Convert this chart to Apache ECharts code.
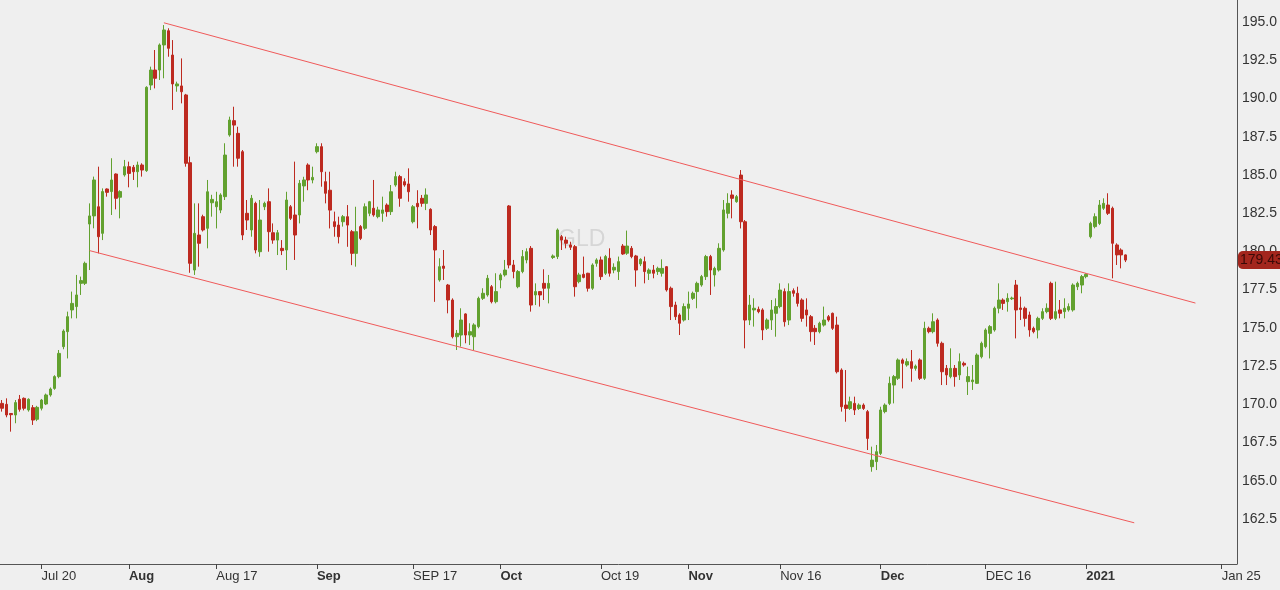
<!DOCTYPE html>
<html>
<head>
<meta charset="utf-8">
<title>GLD</title>
<script src="https://cdn.jsdelivr.net/npm/echarts@6/dist/echarts.min.js"></script>
<style>
  html, body { margin: 0; padding: 0; background: #efefef; }
  #chart { width: 1280px; height: 590px; }
</style>
</head>
<body>
<div id="chart"></div>
<script>
// half-day bars, oldest first
const opens = [
  170.06,170.00,169.40,169.30,170.33,170.39,169.63,169.78,169.02,169.74,
  170.02,170.61,171.04,171.81,173.77,174.75,176.17,176.39,177.91,177.91,
  181.79,182.32,182.92,181.18,184.08,183.91,185.06,183.54,185.00,185.54,
  185.50,185.21,185.65,185.28,190.88,191.86,191.86,193.50,194.43,192.84,
  190.82,190.82,190.23,185.80,178.78,181.07,182.27,181.51,183.18,182.92,
  182.70,183.58,187.61,188.55,187.72,186.52,182.49,181.40,183.14,179.98,
  182.92,183.25,181.22,180.74,180.20,180.09,182.92,182.38,182.38,184.28,
  185.65,184.67,186.52,186.85,184.56,184.00,181.94,181.72,181.94,182.27,
  181.29,179.87,181.62,181.51,182.49,182.82,182.27,182.49,183.03,182.60,
  184.34,184.89,184.56,184.41,181.94,183.14,183.47,183.14,182.75,181.62,
  178.13,179.04,177.80,176.82,174.42,174.53,175.91,174.53,174.42,175.08,
  176.93,177.15,177.69,176.71,178.13,178.46,182.97,179.11,177.69,178.68,
  179.44,180.20,177.15,177.37,177.91,177.59,179.60,179.66,180.96,180.74,
  180.42,180.31,178.02,178.50,178.57,177.59,179.22,179.44,178.57,179.55,
  178.78,178.68,180.35,179.88,180.20,179.70,179.18,179.33,178.57,178.78,
  178.68,178.57,179.00,177.59,176.49,175.84,175.51,176.28,176.93,177.37,
  177.80,178.35,179.66,178.46,178.78,180.09,182.49,183.69,183.25,184.99,
  181.94,175.51,176.17,176.21,176.17,174.97,175.51,175.95,176.39,177.37,
  175.51,177.43,177.26,176.82,176.17,175.73,174.97,174.75,175.18,175.73,
  175.95,175.18,172.24,169.95,169.73,170.06,169.73,169.95,169.52,165.92,
  166.25,166.79,169.52,170.06,171.26,171.70,172.90,172.57,172.79,172.35,
  172.90,171.70,174.97,174.75,175.51,173.99,172.35,171.81,172.35,171.92,
  172.68,171.48,171.48,171.37,173.11,173.77,174.64,174.86,176.28,176.82,
  176.71,176.90,177.80,176.30,176.28,175.84,174.97,174.86,175.62,176.06,
  177.91,175.62,176.17,176.06,176.17,176.17,177.69,177.80,178.35,180.96,
  181.62,181.83,182.82,183.03,182.82,180.42,180.09,179.77
];
const highs = [
  170.28,170.39,169.42,170.28,170.61,170.45,170.39,169.95,169.90,170.35,
  170.70,171.10,171.90,173.55,174.90,176.06,177.37,178.46,178.35,179.33,
  183.14,184.89,185.54,184.12,184.12,186.09,185.10,184.00,185.98,185.87,
  185.65,185.87,185.76,190.80,192.08,193.17,193.60,194.80,194.59,193.82,
  191.10,192.62,190.30,186.20,183.14,183.14,182.40,184.67,183.70,183.90,
  183.80,187.07,188.81,189.46,188.15,186.63,183.36,183.69,183.25,183.36,
  183.25,184.12,181.83,181.40,180.74,183.90,183.03,185.87,184.67,184.88,
  185.76,185.54,187.07,187.07,185.21,185.21,182.60,182.27,182.38,183.03,
  181.40,182.92,181.72,183.14,183.30,184.67,182.92,183.58,183.14,184.34,
  185.21,185.00,184.78,185.43,183.03,184.00,183.69,184.12,182.82,181.72,
  179.55,180.09,177.87,176.93,174.86,176.28,175.95,175.30,175.30,177.04,
  177.59,178.46,177.80,178.57,178.57,179.44,183.03,179.44,178.78,180.09,
  180.20,180.35,177.91,177.37,178.83,178.46,179.80,181.50,181.07,180.96,
  180.63,180.42,178.60,179.66,178.60,179.22,179.55,179.66,179.77,180.20,
  179.22,179.66,180.48,181.36,180.35,179.77,179.55,179.66,178.89,179.11,
  179.00,179.48,179.04,177.70,176.71,175.95,176.60,177.37,177.37,178.02,
  178.46,179.77,179.77,179.00,180.53,183.36,183.80,184.00,183.69,185.32,
  182.05,177.15,176.93,176.39,176.28,175.62,176.82,176.93,177.91,177.58,
  177.91,177.58,177.69,176.93,176.93,175.84,175.18,175.40,176.39,175.84,
  176.00,175.73,172.35,172.24,170.50,170.50,170.06,170.06,169.63,167.23,
  167.34,169.84,170.06,171.81,171.92,173.00,173.00,173.00,173.55,172.60,
  173.00,175.40,175.08,175.95,175.62,174.10,172.57,173.66,172.57,173.33,
  172.79,172.46,172.57,173.33,174.10,174.97,175.18,176.39,177.91,176.93,
  177.26,177.04,178.13,177.04,176.39,176.06,175.08,175.73,176.28,176.60,
  178.02,178.02,176.82,176.93,176.60,177.91,178.02,178.46,178.57,181.94,
  182.49,183.36,183.47,183.80,182.93,180.53,180.20,179.80
];
const lows = [
  169.52,169.15,168.21,168.76,169.52,169.60,169.52,168.65,168.90,169.60,
  169.95,170.50,170.95,171.70,173.60,173.00,175.62,175.62,177.15,177.80,
  178.78,181.51,179.87,180.74,183.58,182.38,182.75,182.16,184.89,184.19,
  184.67,184.19,184.89,185.20,190.55,190.66,191.21,191.32,192.73,189.25,
  190.44,189.68,185.54,178.60,178.46,179.00,181.30,180.20,182.27,181.50,
  182.50,183.36,187.50,185.54,185.54,180.74,181.40,180.96,179.87,179.65,
  182.70,179.98,180.50,179.76,179.76,178.78,182.05,179.44,181.83,183.25,
  184.00,184.45,186.41,184.23,183.14,181.50,180.96,180.52,181.62,180.30,
  179.10,179.00,180.74,181.40,182.30,182.27,182.16,181.94,182.27,182.38,
  184.23,182.92,184.23,183.25,181.83,181.51,182.92,182.70,181.07,176.70,
  178.02,178.13,175.95,174.31,173.55,173.77,173.99,173.88,173.55,174.97,
  176.82,177.04,176.60,176.60,177.59,178.35,178.89,178.24,177.59,178.57,
  179.22,176.06,176.49,176.39,176.82,176.60,179.50,179.50,180.09,180.20,
  180.09,177.04,177.91,178.24,177.37,177.48,179.00,178.13,178.46,178.35,
  178.57,178.13,179.77,179.77,179.55,177.69,179.04,177.91,178.13,178.24,
  178.46,178.35,177.37,175.51,175.51,174.53,175.41,175.51,176.82,176.28,
  177.69,178.13,177.15,177.70,178.68,179.98,182.16,182.16,183.18,181.50,
  173.66,175.18,175.08,175.95,174.20,174.86,174.86,174.42,176.28,175.08,
  175.18,177.04,176.39,175.40,175.08,174.10,173.88,174.64,175.08,175.40,
  174.86,172.02,169.52,168.86,169.63,169.30,169.63,169.63,167.01,165.59,
  165.70,166.68,169.41,169.95,170.06,171.59,171.04,172.46,171.48,172.20,
  171.59,171.59,174.64,174.64,173.77,171.26,171.26,171.70,171.15,171.59,
  172.46,170.61,170.94,171.33,173.00,173.66,173.00,174.75,175.95,176.17,
  176.06,176.82,174.31,175.51,175.08,174.42,174.64,174.31,175.51,175.95,
  175.51,175.51,175.62,175.62,176.06,176.06,177.47,177.26,178.24,180.85,
  181.51,181.72,182.71,182.38,178.24,179.11,178.89,179.30
];
const closes = [
  169.74,169.30,169.32,170.11,169.67,169.74,170.33,168.97,169.80,170.28,
  170.61,171.00,171.81,173.33,174.79,175.73,176.60,177.15,178.09,179.22,
  182.32,184.67,180.96,183.91,183.86,184.67,183.47,183.91,185.54,185.10,
  185.21,185.65,185.32,190.73,191.86,191.32,193.50,194.48,193.28,190.95,
  190.95,190.44,185.76,179.22,181.18,180.53,181.40,183.90,183.40,183.25,
  183.69,186.30,188.59,188.26,186.09,181.07,182.05,183.47,180.09,182.05,
  183.14,181.29,180.74,181.22,180.05,183.36,182.16,181.07,184.45,184.67,
  184.67,184.84,186.85,185.21,183.80,182.70,181.62,180.96,182.27,181.72,
  179.87,181.29,180.85,182.92,183.25,182.38,182.71,182.71,182.60,183.90,
  184.89,183.47,184.34,183.90,182.92,182.92,183.14,183.69,181.40,180.09,
  179.00,178.89,176.82,174.42,174.64,175.51,174.53,174.75,175.19,176.93,
  177.26,178.24,176.71,177.37,178.46,178.78,179.11,178.68,178.68,179.66,
  179.98,176.49,177.37,177.15,177.59,177.91,179.70,181.40,180.74,180.53,
  180.27,177.69,178.46,178.30,177.59,179.11,179.44,178.35,179.66,178.57,
  178.96,179.33,179.83,180.35,179.66,178.78,179.48,178.68,178.78,178.57,
  178.89,178.89,177.48,176.39,175.73,175.30,176.39,176.56,177.26,177.91,
  178.35,179.66,178.78,178.89,180.20,182.71,183.14,183.47,183.58,181.94,
  175.51,176.49,176.28,176.06,174.86,175.51,176.17,176.39,177.47,175.40,
  177.37,177.26,176.60,175.62,175.84,174.75,174.75,175.30,175.51,175.51,
  174.97,172.13,169.84,169.73,170.17,169.63,169.95,169.73,167.77,166.35,
  166.90,169.63,169.95,171.37,171.81,172.90,172.68,172.79,172.35,172.50,
  171.70,174.97,174.75,175.40,173.99,172.13,171.92,172.35,171.81,172.79,
  172.57,171.81,171.59,173.22,173.99,174.86,175.08,176.28,176.82,176.60,
  176.93,176.95,176.17,176.20,175.62,174.86,174.75,175.62,176.06,176.28,
  175.62,176.06,175.95,176.28,176.39,177.80,177.91,178.35,178.50,181.83,
  182.27,183.03,183.14,182.49,180.53,179.77,179.77,179.43
];

// the time axis keeps room for future bars after the last one
const slotCount = 283;
const categories = Array.from({ length: slotCount }, (_, i) => String(i));

const tickSlots  = [9, 29, 49, 72, 94, 114, 137, 157, 178, 201, 225, 248, 279];
const tickLabels = ['Jul 20', 'Aug', 'Aug 17', 'Sep', 'SEP 17', 'Oct', 'Oct 19',
                    'Nov', 'Nov 16', 'Dec', 'DEC 16', '2021', 'Jan 25'];
const boldLabels = ['Aug', 'Sep', 'Oct', 'Nov', 'Dec', '2021'];

const priceTicks = [162.5, 165, 167.5, 170, 172.5, 175, 177.5, 180, 182.5, 185, 187.5, 190, 192.5, 195];
const lastPrice = 179.43;

// channel lines: [slot, price] pairs
const upperLine = [[37, 194.95], [273, 176.62]];
const lowerLine = [[20, 180.05], [259, 162.25]];

const candles = opens.map((o, i) => [o, closes[i], lows[i], highs[i]]);

const chart = echarts.init(document.getElementById('chart'));
const isTick = (index) => tickSlots.indexOf(index) >= 0;
const font = "'Liberation Sans', Arial, sans-serif";

const option = {
  backgroundColor: '#efefef',
  animation: false,
  title: {
    text: 'GLD',
    left: 558,
    top: 228,
    padding: 0,
    z: 0,
    textStyle: { color: '#d6d6d6', fontSize: 23, fontWeight: 'normal', fontFamily: font }
  },
  grid: { left: 0, right: 43, top: 0, bottom: 26 },
  xAxis: {
    type: 'category',
    data: categories,
    boundaryGap: true,
    axisLine: { lineStyle: { color: '#555', width: 1 } },
    axisTick: {
      show: true,
      alignWithLabel: true,
      interval: isTick,
      length: 5,
      lineStyle: { color: '#444', width: 1 }
    },
    axisLabel: {
      interval: isTick,
      align: 'left',
      margin: 6,
      color: '#333',
      fontSize: 13,
      fontFamily: font,
      formatter: function (value, index) {
        const t = tickLabels[tickSlots.indexOf(index)] || '';
        return boldLabels.indexOf(t) >= 0 ? '{b|' + t + '}' : t;
      },
      rich: { b: { fontWeight: 'bold', fontSize: 13, color: '#333', fontFamily: font } }
    },
    splitLine: { show: false }
  },
  yAxis: {
    type: 'value',
    position: 'right',
    min: 159.556,
    max: 196.44,
    axisLine: { show: true, lineStyle: { color: '#555', width: 1 } },
    axisTick: { show: false },
    splitLine: { show: false },
    axisLabel: {
      customValues: priceTicks,
      margin: 5,
      color: '#333',
      fontSize: 14,
      fontFamily: font,
      formatter: (v) => v.toFixed(1)
    }
  },
  series: [
    {
      type: 'candlestick',
      data: candles,
      barWidth: 3,
      itemStyle: {
        color: '#62a12f',
        color0: '#bd2a20',
        borderColor: '#62a12f',
        borderColor0: '#bd2a20',
        borderWidth: 1
      },
      markLine: {
        silent: true,
        symbol: ['none', 'none'],
        animation: false,
        data: [
          [
            { coord: upperLine[0], lineStyle: { color: '#f05a5a', width: 1, type: 'solid' }, label: { show: false } },
            { coord: upperLine[1] }
          ],
          [
            { coord: lowerLine[0], lineStyle: { color: '#f05a5a', width: 1, type: 'solid' }, label: { show: false } },
            { coord: lowerLine[1] }
          ]
        ]
      }
    },
    {
      // carries only the last-price badge on the right axis
      type: 'line',
      data: [],
      silent: true,
      markLine: {
        silent: true,
        symbol: ['none', 'none'],
        animation: false,
        lineStyle: { color: 'rgba(0,0,0,0)', width: 0 },
        label: {
          show: true,
          position: 'end',
          distance: 1,
          formatter: lastPrice.toFixed(2),
          color: '#3a0a07',
          fontSize: 14,
          fontFamily: font,
          backgroundColor: '#a3261d',
          borderRadius: 5,
          padding: [2, 3, 2, 2]
        },
        data: [{ yAxis: lastPrice }]
      }
    }
  ]
};

chart.setOption(option);
window.addEventListener('resize', () => chart.resize());
</script>
</body>
</html>
